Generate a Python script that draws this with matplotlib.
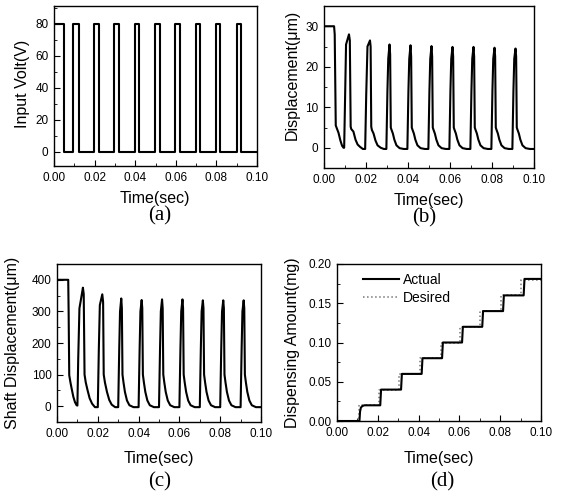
import matplotlib
matplotlib.use("Agg")
import matplotlib.pyplot as plt
from matplotlib.ticker import MultipleLocator

plt.rcParams['font.family'] = ['Liberation Sans', 'DejaVu Sans']

# ---------------- data ----------------
# (a) input voltage square wave (transition points)
volt_t = [0.0, 0.0049, 0.0049, 0.0095, 0.0095, 0.0123, 0.0123, 0.0195, 0.0195, 0.0222, 0.0222,
          0.0296, 0.0296, 0.0321, 0.0321, 0.0397, 0.0397, 0.0421, 0.0421, 0.0497, 0.0497, 0.0520, 0.0520,
          0.0598, 0.0598, 0.0620, 0.0620, 0.0699, 0.0699, 0.0721, 0.0721, 0.0800, 0.0800, 0.0820, 0.0820,
          0.0900, 0.0900, 0.0921, 0.0921, 0.1000]
volt_v = [80, 80, 0, 0, 80, 80, 0, 0, 80, 80, 0,
          0, 80, 80, 0, 0, 80, 80, 0, 0, 80, 80, 0,
          0, 80, 80, 0, 0, 80, 80, 0, 0, 80, 80, 0,
          0, 80, 80, 0, 0]

# (b) displacement (um)
disp_t = [0.0000, 0.0048, 0.0051, 0.0056, 0.0069, 0.0078, 0.0086, 0.0093,
          0.0096, 0.0101, 0.0105, 0.0119, 0.0123, 0.0127, 0.0130, 0.0140, 0.0150, 0.0160, 0.0172, 0.0185,
          0.0196, 0.0201, 0.0207, 0.0219, 0.0222, 0.0225, 0.0228, 0.0236, 0.0245, 0.0255, 0.0270, 0.0285,
          0.0297, 0.0302, 0.0306, 0.0312, 0.0315, 0.0318, 0.0321, 0.0328, 0.0335, 0.0345, 0.0360, 0.0380,
          0.0397, 0.0402, 0.0406, 0.0412, 0.0415, 0.0418, 0.0421, 0.0428, 0.0435, 0.0445, 0.0460, 0.0480,
          0.0497, 0.0502, 0.0506, 0.0512, 0.0515, 0.0518, 0.0521, 0.0528, 0.0535, 0.0545, 0.0560, 0.0580,
          0.0597, 0.0602, 0.0606, 0.0612, 0.0615, 0.0618, 0.0621, 0.0628, 0.0635, 0.0645, 0.0660, 0.0680,
          0.0697, 0.0702, 0.0706, 0.0712, 0.0715, 0.0718, 0.0721, 0.0728, 0.0735, 0.0745, 0.0760, 0.0780,
          0.0797, 0.0802, 0.0806, 0.0812, 0.0815, 0.0818, 0.0821, 0.0828, 0.0835, 0.0845, 0.0860, 0.0880,
          0.0897, 0.0902, 0.0906, 0.0912, 0.0915, 0.0918, 0.0921, 0.0928, 0.0935, 0.0945, 0.0960, 0.0980,
          0.1000]
disp_v = [30.0, 30.0, 28.0, 5.5, 3.7, 1.8, 0.5, 0.0,
          0.0, 14.0, 25.5, 28.0, 26.5, 5.2, 4.6, 4.0, 2.0, 0.8, 0.2, -0.3,
          -0.3, 13.0, 25.0, 26.5, 25.0, 5.2, 4.4, 3.5, 1.8, 0.6, 0.0, -0.3,
          -0.3, 14.0, 22.0, 25.5, 23.0, 5.0, 4.5, 3.5, 2.0, 0.6, -0.1, -0.3,
          -0.3, 14.0, 22.0, 25.3, 22.5, 5.0, 4.5, 3.5, 2.0, 0.6, -0.1, -0.3,
          -0.3, 14.0, 22.0, 25.1, 22.5, 5.0, 4.5, 3.5, 2.0, 0.6, -0.1, -0.3,
          -0.3, 14.0, 22.0, 24.9, 22.5, 5.0, 4.5, 3.5, 2.0, 0.6, -0.1, -0.3,
          -0.3, 14.0, 22.0, 24.9, 22.5, 5.0, 4.5, 3.5, 2.0, 0.6, -0.1, -0.3,
          -0.3, 14.0, 22.0, 24.7, 22.5, 5.0, 4.5, 3.5, 2.0, 0.6, -0.1, -0.3,
          -0.3, 14.0, 22.0, 24.5, 22.5, 5.0, 4.5, 3.5, 2.0, 0.6, -0.1, -0.3,
          -0.3]

# (c) shaft displacement (um)
shaft_t = [0.0000, 0.0055, 0.0057, 0.0060, 0.0066, 0.0072, 0.0080, 0.0088, 0.0096,
           0.0100, 0.0104, 0.0110, 0.0118, 0.0127, 0.0131, 0.0135, 0.0141, 0.0150, 0.0160, 0.0172, 0.0186,
           0.0200, 0.0205, 0.0210, 0.0222, 0.0226, 0.0229, 0.0235, 0.0245, 0.0256, 0.0268, 0.0285,
           0.0300, 0.0305, 0.0309, 0.0315, 0.0318, 0.0321, 0.0326, 0.0333, 0.0343, 0.0355, 0.0375,
           0.0400, 0.0405, 0.0409, 0.0415, 0.0418, 0.0421, 0.0426, 0.0433, 0.0443, 0.0455, 0.0475,
           0.0500, 0.0505, 0.0509, 0.0515, 0.0518, 0.0521, 0.0526, 0.0533, 0.0543, 0.0555, 0.0575,
           0.0600, 0.0605, 0.0609, 0.0615, 0.0618, 0.0621, 0.0626, 0.0633, 0.0643, 0.0655, 0.0675,
           0.0700, 0.0705, 0.0709, 0.0715, 0.0718, 0.0721, 0.0726, 0.0733, 0.0743, 0.0755, 0.0775,
           0.0800, 0.0805, 0.0809, 0.0815, 0.0818, 0.0821, 0.0826, 0.0833, 0.0843, 0.0855, 0.0875,
           0.0900, 0.0905, 0.0909, 0.0915, 0.0918, 0.0921, 0.0926, 0.0933, 0.0943, 0.0955, 0.0975,
           0.1000]
shaft_v = [400, 400, 300, 98, 75, 55, 30, 13, 3,
           2, 150, 310, 340, 375, 355, 100, 75, 50, 25, 8, -3,
           -3, 180, 320, 354, 330, 100, 75, 45, 20, 5, -3,
           -3, 180, 300, 341, 310, 100, 75, 45, 18, 3, -3,
           -3, 180, 300, 336, 310, 100, 75, 45, 18, 3, -3,
           -3, 180, 300, 338, 310, 100, 75, 45, 18, 3, -3,
           -3, 180, 300, 338, 310, 100, 75, 45, 18, 3, -3,
           -3, 180, 300, 335, 310, 100, 75, 45, 18, 3, -3,
           -3, 180, 300, 335, 310, 100, 75, 45, 18, 3, -3,
           -3, 180, 300, 335, 310, 100, 75, 45, 18, 3, -3,
           -3]

# (d) dispensing amount (mg)
actual_t = [0.0, 0.0110, 0.0113, 0.0117, 0.0124, 0.0134, 0.0212, 0.0216, 0.0314, 0.0318,
            0.0415, 0.0419, 0.0515, 0.0519, 0.0613, 0.0617, 0.0712, 0.0716, 0.0814, 0.0818,
            0.0915, 0.0919, 0.1000]
actual_v = [0.0, 0.0, 0.012, 0.017, 0.019, 0.020, 0.020, 0.040, 0.040, 0.060,
            0.060, 0.080, 0.080, 0.100, 0.100, 0.120, 0.120, 0.140, 0.140, 0.160,
            0.160, 0.181, 0.181]
desired_t = [0.0, 0.0107, 0.0204, 0.0302, 0.0405, 0.0508, 0.0603, 0.0702, 0.0802, 0.0903, 0.1000]
desired_v = [0.0, 0.02, 0.04, 0.06, 0.08, 0.10, 0.12, 0.14, 0.16, 0.18, 0.18]

x_ticks = [0.00, 0.02, 0.04, 0.06, 0.08, 0.10]

# ---------------- figure ----------------
W, H = 565, 491
fig = plt.figure(figsize=(W / 100, H / 100), dpi=100)


def box(l, t, r, b):
    return [l / W, 1 - b / H, (r - l) / W, (b - t) / H]


def style(ax, ymajor, yminor, ylim, yfmt):
    ax.set_xlim(0, 0.1)
    ax.set_ylim(*ylim)
    ax.set_xticks(x_ticks)
    ax.xaxis.set_minor_locator(MultipleLocator(0.01))
    ax.yaxis.set_major_locator(MultipleLocator(ymajor))
    ax.yaxis.set_minor_locator(MultipleLocator(yminor))
    ax.xaxis.set_major_formatter(plt.FuncFormatter(lambda v, p: f"{v:.2f}"))
    ax.yaxis.set_major_formatter(plt.FuncFormatter(lambda v, p: yfmt.format(v)))
    ax.tick_params(which='major', direction='in', length=4, width=0.8, labelsize=8.5, pad=4)
    ax.tick_params(which='minor', direction='in', length=2, width=0.6)
    for s in ax.spines.values():
        s.set_linewidth(1.0)


lw = 1.5
serif = ['Liberation Serif', 'DejaVu Serif']

# (a)
axa = fig.add_axes(box(54, 6, 257, 166))
axa.plot(volt_t, volt_v, color='black', lw=lw)
style(axa, 20, 10, (-9, 91), "{:.0f}")
fig.text(23 / W, 1 - 84 / H, "Input Volt(V)", rotation=90, ha='center', va='center', fontsize=11.5)
fig.text(155 / W, 1 - 199 / H, "Time(sec)", ha='center', va='center', fontsize=11.5)
fig.text(160 / W, 1 - 216 / H, "(a)", ha='center', va='center', fontsize=15, family=serif)

# (b)
axb = fig.add_axes(box(324, 6, 534, 168))
axb.plot(disp_t, disp_v, color='black', lw=lw)
style(axb, 10, 5, (-5, 35), "{:.0f}")
fig.text(292 / W, 1 - 75 / H, "Displacement(\u03bcm)", rotation=90, ha='center', va='center', fontsize=11.5)
fig.text(429 / W, 1 - 200 / H, "Time(sec)", ha='center', va='center', fontsize=11.5)
fig.text(424 / W, 1 - 218 / H, "(b)", ha='center', va='center', fontsize=15, family=serif)

# (c)
axc = fig.add_axes(box(57, 264, 261, 422))
axc.plot(shaft_t, shaft_v, color='black', lw=lw)
style(axc, 100, 50, (-50, 450), "{:.0f}")
fig.text(13 / W, 1 - 343 / H, "Shaft Displacement(\u03bcm)", rotation=90, ha='center', va='center', fontsize=11.5)
fig.text(159 / W, 1 - 458 / H, "Time(sec)", ha='center', va='center', fontsize=11.5)
fig.text(160 / W, 1 - 482 / H, "(c)", ha='center', va='center', fontsize=15, family=serif)

# (d)
axd = fig.add_axes(box(337, 264, 541, 421))
axd.plot(desired_t, desired_v, color='#777777', lw=1.1, ls=':', drawstyle='steps-post', label='Desired')
axd.plot(actual_t, actual_v, color='black', lw=lw, label='Actual')
style(axd, 0.05, 0.025, (0, 0.2), "{:.2f}")
h, l = axd.get_legend_handles_labels()
axd.legend(h[::-1], l[::-1], loc='upper left', bbox_to_anchor=(0.1, 0.98), frameon=False,
           fontsize=10, handlelength=2.6, handletextpad=0.3, labelspacing=0.3, borderaxespad=0)
fig.text(292 / W, 1 - 343 / H, "Dispensing Amount(mg)", rotation=90, ha='center', va='center', fontsize=11.5)
fig.text(439 / W, 1 - 458 / H, "Time(sec)", ha='center', va='center', fontsize=11.5)
fig.text(442 / W, 1 - 482 / H, "(d)", ha='center', va='center', fontsize=15, family=serif)

fig.savefig("out.png", dpi=100)
